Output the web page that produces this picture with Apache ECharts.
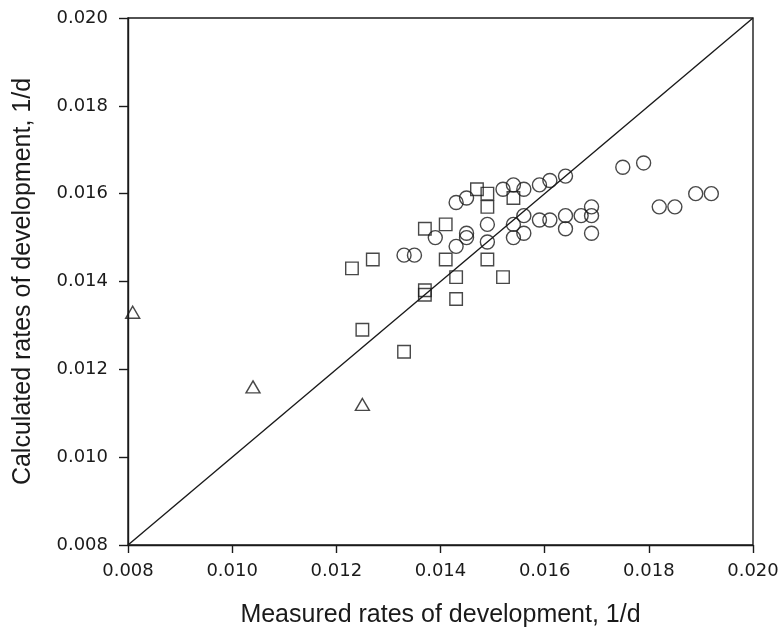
<!DOCTYPE html>
<html>
<head>
<meta charset="utf-8">
<script src="https://cdn.jsdelivr.net/npm/echarts@6/dist/echarts.min.js"></script>
<style>
html,body{margin:0;padding:0;background:#fff;}
#chart{width:783px;height:629px;}
</style>
</head>
<body>
<div id="chart"></div>
<script>
// Tick labels / axis range
const xTicks = [0.008, 0.010, 0.012, 0.014, 0.016, 0.018, 0.020];
const yTicks = [0.008, 0.010, 0.012, 0.014, 0.016, 0.018, 0.020];

// Circles (measured, calculated)
const circleX = [0.0143,0.0145,0.0152,0.0154,0.0156,0.0159,0.0161,0.0164,0.0175,0.0179,0.0189,0.0192,0.0182,0.0185,
  0.0149,0.0154,0.0156,0.0159,0.0161,0.0164,0.0164,0.0167,0.0169,0.0169,0.0169,0.0145,0.0145,0.0139,0.0143,0.0133,0.0135,0.0149,0.0154,0.0156];
const circleY = [0.0158,0.0159,0.0161,0.0162,0.0161,0.0162,0.0163,0.0164,0.0166,0.0167,0.0160,0.0160,0.0157,0.0157,
  0.0153,0.0153,0.0155,0.0154,0.0154,0.0155,0.0152,0.0155,0.0157,0.0155,0.0151,0.0151,0.0150,0.0150,0.0148,0.0146,0.0146,0.0149,0.0150,0.0151];

// Squares
const squareX = [0.0123,0.0127,0.0125,0.0133,0.0137,0.0137,0.0137,0.0141,0.0141,0.0143,0.0143,0.0147,0.0149,0.0149,0.0154,0.0149,0.0152];
const squareY = [0.0143,0.0145,0.0129,0.0124,0.0152,0.0138,0.0137,0.0153,0.0145,0.0141,0.0136,0.0161,0.0160,0.0157,0.0159,0.0145,0.0141];

// Triangles
const triX = [0.00809,0.0104,0.0125];
const triY = [0.0133,0.0116,0.0112];

// 1:1 line
const lineX = [0.008, 0.020];
const lineY = [0.008, 0.020];

const zip = (a,b) => a.map((v,i)=>[v,b[i]]);
const titleFont = '"Liberation Sans", Arial, Helvetica, sans-serif';
const tickFont = '"DejaVu Sans", "Liberation Sans", sans-serif';
const ink = '#1a1a1a';
const open = {color:'transparent', borderColor:ink, borderWidth:1.4};

const chart = echarts.init(document.getElementById('chart'), null, {renderer:'canvas'});
chart.setOption({
  animation:false,
  backgroundColor:'#fff',
  grid:{left:128, right:30, top:18, bottom:84, containLabel:false, outerBoundsMode:'none',
    show:true, borderColor:ink, borderWidth:1.4, backgroundColor:'transparent'},
  xAxis:{
    type:'value', min:xTicks[0], max:xTicks[xTicks.length-1], interval:0.002,
    name:'Measured rates of development, 1/d', nameLocation:'middle', nameGap:58,
    nameTextStyle:{fontFamily:titleFont, fontSize:25, color:ink},
    axisLine:{show:true, onZero:false, lineStyle:{color:ink, width:1.4}},
    axisTick:{show:true, inside:false, length:8, lineStyle:{color:ink, width:1.4}},
    axisLabel:{fontFamily:tickFont, fontSize:18, color:ink, margin:17, formatter:v=>v.toFixed(3)},
    splitLine:{show:false}
  },
  yAxis:{
    type:'value', min:yTicks[0], max:yTicks[yTicks.length-1], interval:0.002,
    name:'Calculated rates of development, 1/d', nameLocation:'middle', nameGap:92, nameRotate:90,
    nameTextStyle:{fontFamily:titleFont, fontSize:25, color:ink},
    axisLine:{show:true, onZero:false, lineStyle:{color:ink, width:1.4}},
    axisTick:{show:true, inside:false, length:9, lineStyle:{color:ink, width:1.4}},
    axisLabel:{fontFamily:tickFont, fontSize:18, color:ink, margin:20, formatter:v=>v.toFixed(3)},
    splitLine:{show:false}
  },
  series:[
    {type:'line', data:zip(lineX,lineY), symbol:'none', lineStyle:{color:ink, width:1.4}, z:1, silent:true},
    {type:'scatter', data:zip(circleX,circleY), symbol:'circle', symbolSize:14, itemStyle:open, z:3},
    {type:'scatter', data:zip(squareX,squareY), symbol:'rect', symbolSize:12.5, itemStyle:open, z:3},
    {type:'scatter', data:zip(triX,triY), symbol:'triangle', symbolSize:[14,12], itemStyle:open, z:3}
  ]
});
</script>
</body>
</html>
